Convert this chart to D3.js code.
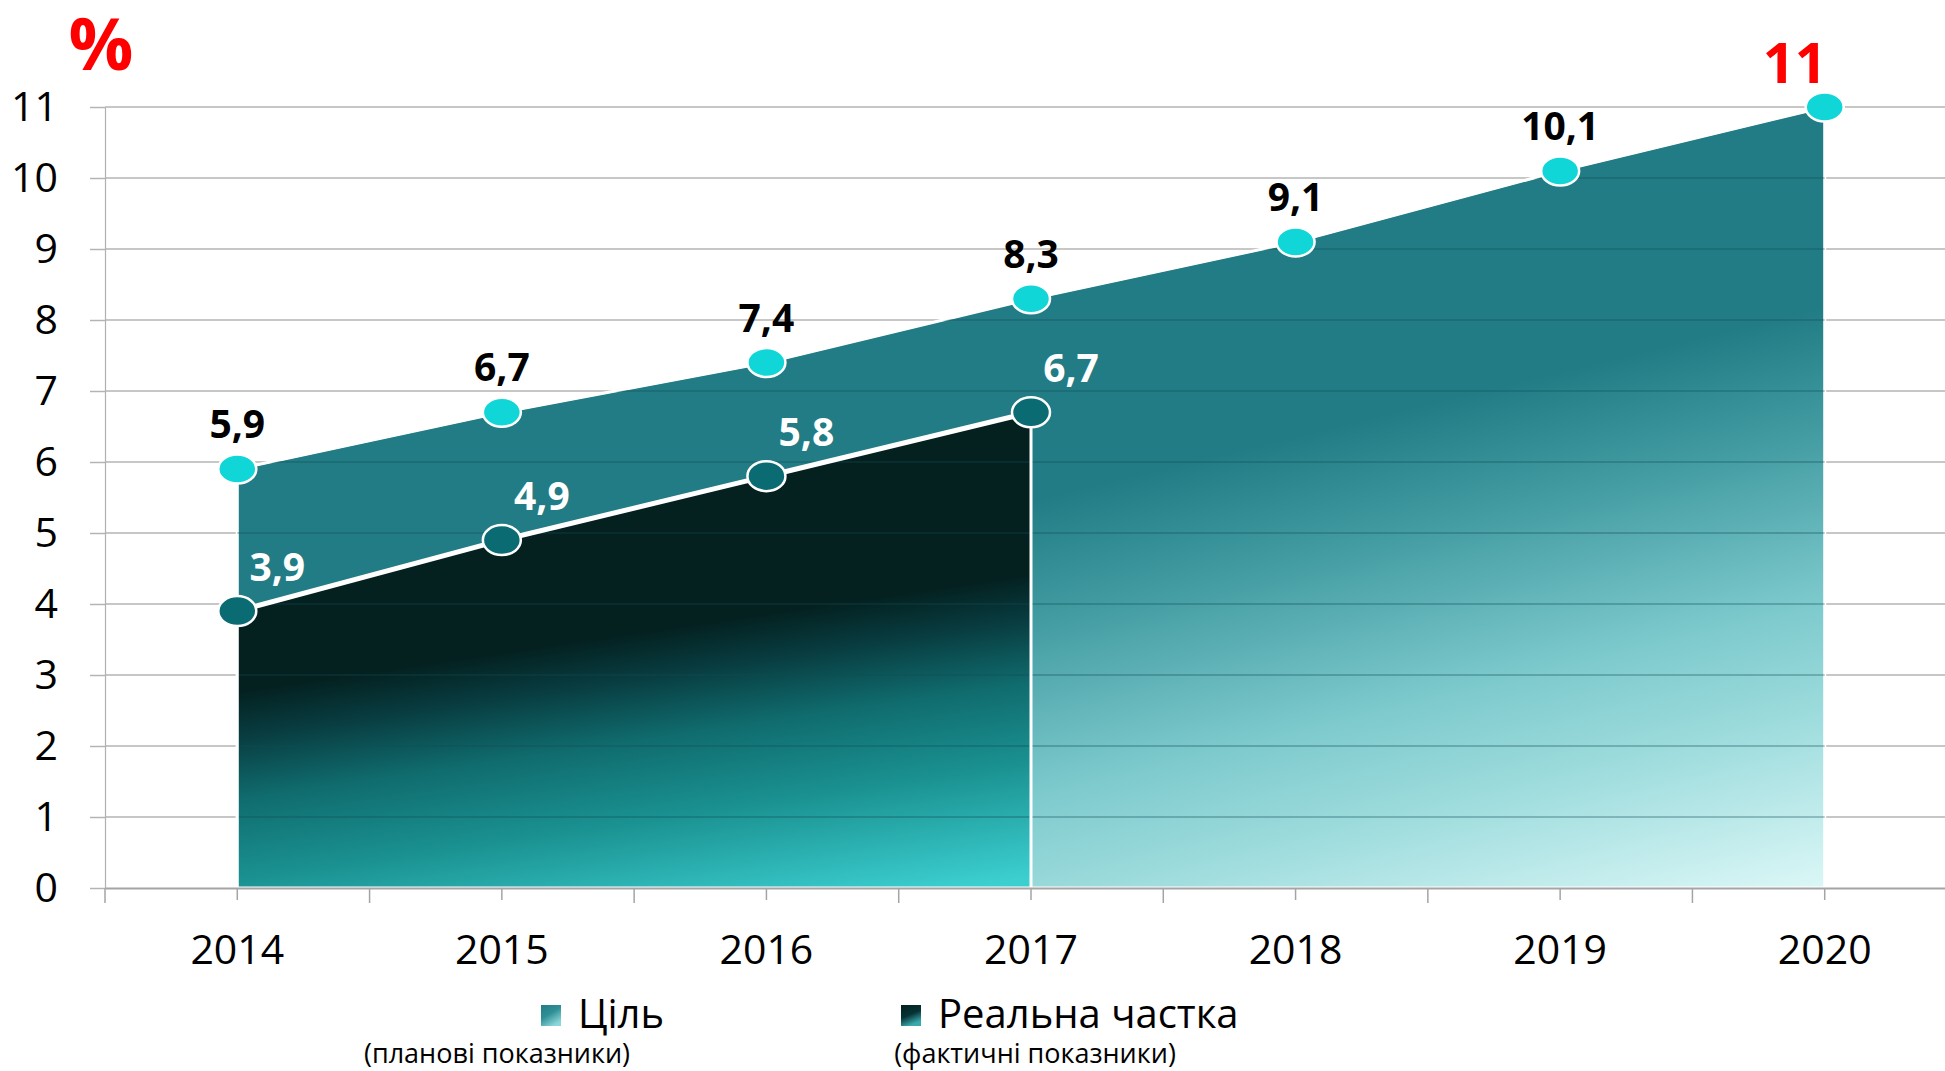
<!doctype html>
<html lang=uk>
<head>
  <meta charset=utf-8>
  <title>Ціль і реальна частка, %</title>
  <script src="https://cdn.jsdelivr.net/npm/d3@7"></script>
  <style>
    html, body {
      margin: 0;
      background: #fff;
    }
    svg {
      display: block;
      font-family: "Open Sans", sans-serif;
    }
    .grid line {
      stroke: #b4b4b4;
      stroke-width: 1.5;
    }
    .grid-over line {
      stroke: rgba(15, 75, 85, 0.3);
      stroke-width: 2;
    }
    .value {
      font-weight: bold;
      font-size: 39px;
      text-anchor: middle;
    }
  </style>
</head>
<body>
<svg id=chart width=1945 height=1071></svg>
<script>
  const years = ['2014', '2015', '2016', '2017', '2018', '2019', '2020']
  const targetValues = [5.9, 6.7, 7.4, 8.3, 9.1, 10.1, 11]
  const realYears = ['2014', '2015', '2016', '2017']
  const realValues = [3.9, 4.9, 5.8, 6.7]
  const yTicks = [0, 1, 2, 3, 4, 5, 6, 7, 8, 9, 10, 11]

  const legendItems = [
    { name: 'Ціль', note: '(планові показники)', fill: 'url(#swatch-target)' },
    { name: 'Реальна частка', note: '(фактичні показники)', fill: 'url(#swatch-real)' },
  ]

  const plotLeft = 105
  const plotRight = 1957
  const plotTop = 107
  const plotBottom = 888

  const svg = d3.select('#chart')

  const x = d3.scaleBand().domain(years).range([plotLeft, plotRight])
  const xc = d => x(d) + x.bandwidth() / 2
  const y = d3.scaleLinear().domain([0, 11]).range([plotBottom, plotTop])

  const target = years.map((year, i) => ({ year, value: targetValues[i] }))
  const real = realYears.map((year, i) => ({ year, value: realValues[i] }))
  const fmt = v => String(v).replace('.', ',')

  // gradients
  const defs = svg.append('defs')
  function gradient(id, attrs, stops) {
    const g = defs.append('linearGradient').attr('id', id)
    for (const k in attrs) g.attr(k, attrs[k])
    g.selectAll('stop').data(stops).join('stop')
      .attr('offset', d => d[0])
      .attr('stop-color', d => d[1])
  }
  gradient('grad-target',
    { gradientUnits: 'userSpaceOnUse', x1: 1035, y1: 500, x2: 1169, y2: 1049 },
    [[0, '#227c85'], [0.2, '#409aa0'], [0.5, '#7cc9cc'], [0.7, '#9edcdd'], [1, '#dcf7f7']])
  gradient('grad-real',
    { gradientUnits: 'userSpaceOnUse', x1: 240, y1: 690, x2: 284, y2: 988 },
    [[0, '#04201f'], [0.15, '#083c40'], [0.36, '#106c6e'], [0.615, '#1a9090'], [1, '#3ccfd0']])
  gradient('swatch-target', { x1: 0, y1: 0, x2: 0.6, y2: 1 },
    [[0, '#237c85'], [0.5, '#2f8f96'], [1, '#8ad6d8']])
  gradient('swatch-real', { x1: 0, y1: 0, x2: 0.4, y2: 1 },
    [[0, '#03201f'], [0.55, '#063235'], [1, '#3aa9ac']])

  const area = d3.area()
    .x(d => xc(d.year))
    .y0(y(0))
    .y1(d => y(d.value))

  defs.append('clipPath').attr('id', 'target-clip')
    .append('path').attr('d', area(target))

  // grid under the areas
  svg.append('g').attr('class', 'grid')
    .selectAll('line').data(yTicks.filter(d => d > 0)).join('line')
      .attr('x1', plotLeft).attr('x2', plotRight)
      .attr('y1', d => y(d)).attr('y2', d => y(d))

  // y axis
  const gy = svg.append('g')
    .attr('transform', `translate(${plotLeft},0)`)
    .call(d3.axisLeft(y).tickValues(yTicks).tickSize(15).tickSizeOuter(0).tickPadding(32))
  gy.select('.domain').attr('stroke', '#b0b0b0').attr('stroke-width', 1.2)
  gy.selectAll('.tick line').attr('stroke', '#b4b4b4').attr('stroke-width', 1.5)
  gy.selectAll('.tick text')
    .attr('font-family', '"Open Sans", sans-serif')
    .attr('font-size', 41)
    .attr('fill', '#000')

  // areas
  svg.append('path')
    .attr('d', area(target))
    .attr('fill', 'url(#grad-target)')
    .attr('stroke', '#fff')
    .attr('stroke-width', 3)
    .attr('stroke-linejoin', 'round')

  svg.append('path')
    .attr('d', area(real))
    .attr('fill', 'url(#grad-real)')

  svg.append('g').attr('class', 'grid-over')
    .attr('clip-path', 'url(#target-clip)')
    .selectAll('line').data(yTicks.filter(d => d > 0)).join('line')
      .attr('x1', plotLeft).attr('x2', plotRight)
      .attr('y1', d => y(d)).attr('y2', d => y(d))

  svg.append('path')
    .attr('d', area(real))
    .attr('fill', 'none')
    .attr('stroke', '#fff')
    .attr('stroke-width', 3)

  svg.append('path')
    .attr('d', d3.line().x(d => xc(d.year)).y(d => y(d.value))(real))
    .attr('fill', 'none')
    .attr('stroke', '#fff')
    .attr('stroke-width', 5)

  svg.append('path')
    .attr('d', d3.line().x(d => xc(d.year)).y(d => y(d.value))(target))
    .attr('fill', 'none')
    .attr('stroke', '#fff')
    .attr('stroke-width', 2)

  // x axis
  const gx = svg.append('g')
    .attr('transform', `translate(0,${y(0)})`)
    .call(d3.axisBottom(x).tickSize(12).tickSizeOuter(0).tickPadding(35))
  gx.select('.domain').attr('stroke', '#a4a4a4').attr('stroke-width', 2)
  gx.selectAll('.tick line').attr('stroke', '#a4a4a4').attr('stroke-width', 1.5)
  gx.selectAll('.tick text')
    .attr('font-family', '"Open Sans", sans-serif')
    .attr('font-size', 41)
    .attr('fill', '#000')
  gx.selectAll('line.edge')
    .data([...years.map(d => x(d)), plotRight])
    .join('line')
      .attr('class', 'edge')
      .attr('x1', d => d).attr('x2', d => d)
      .attr('y1', 0).attr('y2', 15)
      .attr('stroke', '#a4a4a4')
      .attr('stroke-width', 1.5)

  // markers
  svg.append('g').selectAll('ellipse').data(target).join('ellipse')
    .attr('cx', d => xc(d.year))
    .attr('cy', d => y(d.value))
    .attr('rx', 19).attr('ry', 14.5)
    .attr('fill', '#10d6d8')
    .attr('stroke', '#fff')
    .attr('stroke-width', 2.5)

  svg.append('g').selectAll('ellipse').data(real).join('ellipse')
    .attr('cx', d => xc(d.year))
    .attr('cy', d => y(d.value))
    .attr('rx', 19).attr('ry', 15)
    .attr('fill', '#0a6b72')
    .attr('stroke', '#fff')
    .attr('stroke-width', 2.5)

  // value labels
  const last = target[target.length - 1]
  svg.append('g').selectAll('text').data(target).join('text')
    .attr('class', 'value')
    .attr('x', d => xc(d.year))
    .attr('y', d => y(d.value) - 31)
    .attr('fill', '#000')
    .text(d => fmt(d.value))
    .filter(d => d === last)
      .attr('fill', '#ff0000')
      .style('font-size', '56px')
      .style('text-anchor', 'end')
      .attr('x', d => xc(d.year) + 2)
      .attr('y', d => y(d.value) - 24)

  svg.append('g').selectAll('text').data(real).join('text')
    .attr('class', 'value')
    .attr('x', d => xc(d.year) + 40)
    .attr('y', d => y(d.value) - 30)
    .attr('fill', '#fff')
    .text(d => fmt(d.value))

  // unit
  svg.append('text')
    .attr('x', 101).attr('y', 70)
    .attr('text-anchor', 'middle')
    .attr('font-size', 72)
    .attr('font-weight', 'bold')
    .attr('fill', '#ff0000')
    .text('%')

  // legend
  const legendX = [541, 901]
  const legend = svg.append('g').selectAll('g').data(legendItems).join('g')
    .attr('transform', (d, i) => `translate(${legendX[i]},1005)`)
  legend.append('rect')
    .attr('width', 20).attr('height', 21)
    .attr('fill', d => d.fill)
  legend.append('text')
    .attr('x', 37).attr('y', 23)
    .attr('font-size', 40)
    .attr('fill', '#000')
    .text(d => d.name)
  legend.append('text')
    .attr('x', (d, i) => [-44, 134][i])
    .attr('y', 58)
    .attr('text-anchor', 'middle')
    .attr('font-size', 27)
    .attr('fill', '#000')
    .text(d => d.note)
</script>
</body>
</html>
